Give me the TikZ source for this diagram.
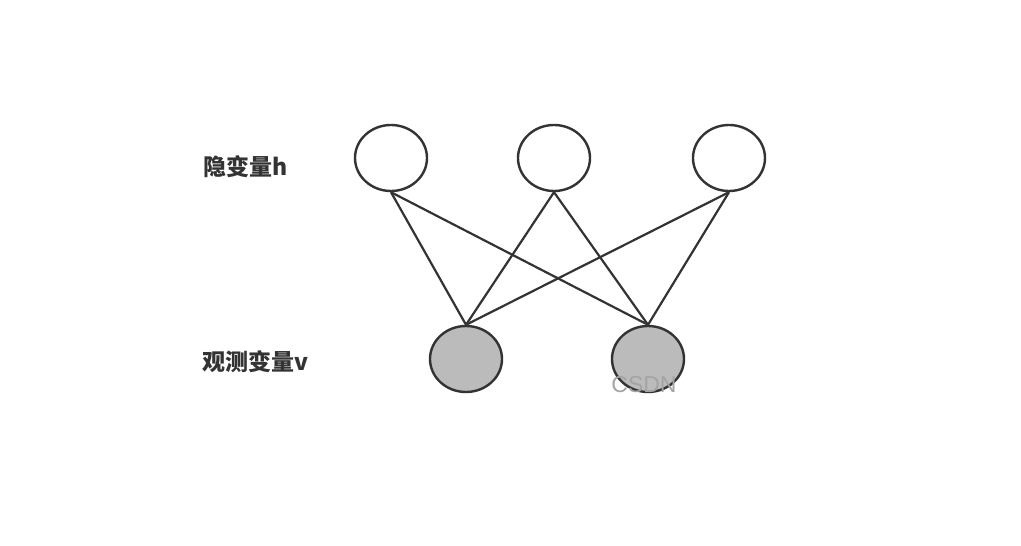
\documentclass[tikz,border=0pt]{standalone}
\usepackage{fontspec}
\setmainfont{Liberation Sans}
\newfontfamily\cjk{Noto Sans CJK SC}
\usetikzlibrary{shapes.geometric}
\definecolor{edge}{HTML}{333333}
\definecolor{obsfill}{HTML}{BBBBBB}
\definecolor{wmcol}{HTML}{A4A4A4}
\begin{document}
\begin{tikzpicture}[x=1pt,y=-1pt,
  unit/.style={draw=edge,line width=2.4pt,ellipse,minimum width=72pt,minimum height=66pt,inner sep=0pt},
  hid/.style={unit,fill=white},
  obs/.style={unit,fill=obsfill},
  conn/.style={draw=edge,line width=2.2pt},
  lbl/.style={font=\cjk\bfseries\fontsize{23}{26}\selectfont,text=edge},
  wmk/.style={font=\fontsize{23}{25}\selectfont,inner sep=0pt,text=wmcol}]
\useasboundingbox[fill=white] (0,0) rectangle (1021,546);
\node[hid] (h1) at (391,158) {};
\node[hid] (h2) at (554,158) {};
\node[hid] (h3) at (729,158) {};
\node[obs] (v1) at (466,359) {};
\node[obs] (v2) at (648,359) {};
\foreach \a in {h1,h2,h3}{
  \foreach \b in {v1,v2}{
    \draw[conn] (\a.south) -- (\b.north);
  }
}
\node[lbl] (lh) at (246,167) {隐变量h};
\node[lbl] (lv) at (255,362) {观测变量v};
\node[wmk] (wm) at (644,385) {CSDN};
\end{tikzpicture}
\end{document}
